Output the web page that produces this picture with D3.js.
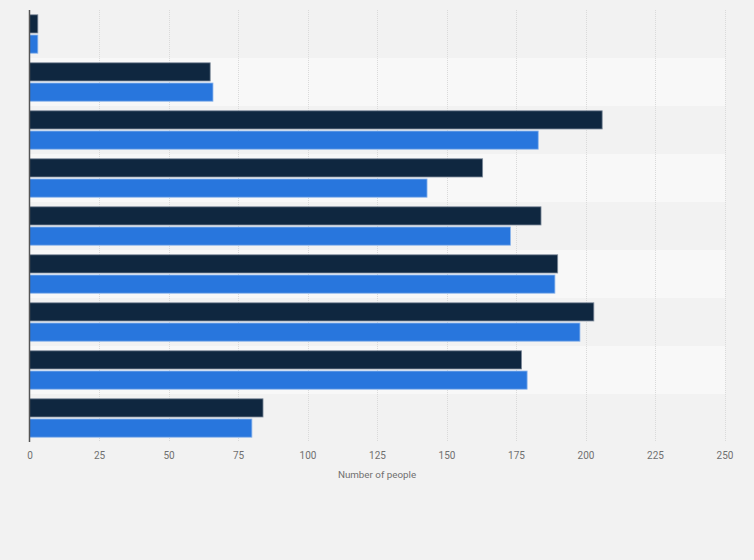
<!DOCTYPE html>
<html>
<head>
<meta charset="utf-8">
<script src="https://cdn.jsdelivr.net/npm/d3@7"></script>
<style>
  html, body { margin: 0; padding: 0; background: #f2f2f2; }
  svg { display: block; font-family: Roboto, "Open Sans", Arial, sans-serif; }
</style>
</head>
<body>
<svg id="chart" width="754" height="560"></svg>
<script>
const categories = ["1", "2", "3", "4", "5", "6", "7", "8", "9"];
const seriesNames = ["Series A", "Series B"];
const seriesA = [3, 65, 206, 163, 184, 190, 203, 177, 84];
const seriesB = [3, 66, 183, 143, 173, 189, 198, 179, 80];
const xTicks = [0, 25, 50, 75, 100, 125, 150, 175, 200, 225, 250];
const xTitle = "Number of people";
const colors = ["#0f2740", "#2876dd"];

const svg = d3.select("#chart");
const margin = { left: 29.5, right: 29.5, top: 10, bottom: 118 };
const W = 754, H = 560;
const x = d3.scaleLinear().domain([0, 250]).range([margin.left, W - margin.right]);
const y = d3.scaleBand().domain(categories).range([margin.top, H - margin.bottom]).paddingInner(0.2).paddingOuter(0.1);
const yOuter = d3.scaleBand().domain(categories).range([margin.top, H - margin.bottom]).padding(0);
const y1 = d3.scaleBand().domain(seriesNames).range([0, y.bandwidth()]).paddingInner(0.1);

// alternating bands
svg.append("g").selectAll("rect").data(categories).join("rect")
  .attr("x", x(0)).attr("width", x(250) - x(0) + 1)
  .attr("y", d => yOuter(d)).attr("height", yOuter.bandwidth())
  .attr("fill", (d, i) => i % 2 ? "#f8f8f8" : "#f2f2f2");

// gridlines
svg.append("g").selectAll("line").data(xTicks.slice(1)).join("line")
  .attr("x1", d => Math.round(x(d)) + 0.5).attr("x2", d => Math.round(x(d)) + 0.5)
  .attr("y1", margin.top).attr("y2", H - margin.bottom)
  .attr("stroke", "#dadada").attr("stroke-width", 1).attr("stroke-dasharray", "1,1");

// bars
const data = categories.map((c, i) => ({ c, vals: [seriesA[i], seriesB[i]] }));
const g = svg.append("g").selectAll("g").data(data).join("g")
  .attr("transform", d => `translate(0,${y(d.c)})`);
g.selectAll("rect").data(d => d.vals.map((v, j) => ({ v, s: seriesNames[j], j }))).join("rect")
  .attr("x", x(0)).attr("y", d => y1(d.s))
  .attr("width", d => x(d.v) - x(0)).attr("height", y1.bandwidth())
  .attr("fill", d => colors[d.j])
  .attr("stroke", d => d.j === 0 ? "#7f8c9c" : "#8db6ec").attr("stroke-width", 0.8);

// axis line
svg.append("line").attr("x1", x(0)).attr("x2", x(0))
  .attr("y1", margin.top).attr("y2", H - margin.bottom)
  .attr("stroke", "#555").attr("stroke-width", 1.5);

// x axis
const xAxis = d3.axisBottom(x).tickValues(xTicks).tickSize(0).tickPadding(0);
const ax = svg.append("g").attr("transform", `translate(0,${H - margin.bottom + 10})`).call(xAxis);
ax.select(".domain").remove();
ax.selectAll("text").attr("fill", "#707070").attr("font-size", 10).attr("dy", "0.71em")
  .attr("font-family", "Roboto, Arial, sans-serif");

svg.append("text").attr("x", (x(0) + x(250)) / 2).attr("y", 478)
  .attr("text-anchor", "middle").attr("fill", "#707070").attr("font-size", 9.8)
  .text(xTitle);
</script>
</body>
</html>
